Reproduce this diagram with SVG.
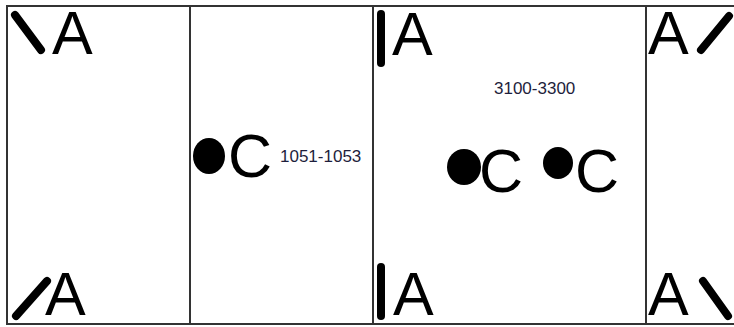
<svg xmlns="http://www.w3.org/2000/svg" width="734" height="327" viewBox="0 0 734 327">
<style>
.big{font-family:"Liberation Sans",Arial,sans-serif;font-size:61px;fill:#000}
.num{font-family:"Liberation Sans",Arial,sans-serif;font-size:17px;fill:#1e1e3c}
.bar{stroke:#000;stroke-width:8;stroke-linecap:round;fill:none}
.line{stroke:#333;stroke-width:2;fill:none}
</style>
<rect width="734" height="327" fill="#fff"/>
<g id="connectors">
<line class="line" x1="6" y1="6" x2="734" y2="6"/>
<line class="line" x1="6" y1="324" x2="734" y2="324"/>
<line class="line" x1="7" y1="6" x2="7" y2="324"/>
<line class="line" x1="190" y1="6" x2="190" y2="324"/>
<line class="line" x1="373" y1="6" x2="373" y2="324"/>
<line class="line" x1="646" y1="6" x2="646" y2="324"/>
</g>
<g id="a-top-left"><line class="bar" x1="15" y1="15" x2="41" y2="50"/><text class="big" x="52" y="54">A</text></g>
<g id="a-bottom-left"><line class="bar" x1="16" y1="316" x2="47" y2="281"/><text class="big" x="45" y="315">A</text></g>
<g id="c-mid"><ellipse cx="209" cy="156" rx="16" ry="18"/><text class="big" x="228" y="177">C</text><text class="num" x="280" y="162">1051-1053</text></g>
<g id="a-top-third"><line class="bar" x1="381" y1="14" x2="381" y2="63"/><text class="big" x="392" y="55">A</text></g>
<g id="a-bottom-third"><line class="bar" x1="381" y1="267" x2="381" y2="316"/><text class="big" x="393" y="315">A</text></g>
<g id="label-3100"><text class="num" x="494" y="94">3100-3300</text></g>
<g id="c-left"><ellipse cx="464" cy="167" rx="17" ry="18"/><text class="big" x="479" y="192">C</text></g>
<g id="c-right"><ellipse cx="558" cy="163" rx="15" ry="16"/><text class="big" x="575" y="192">C</text></g>
<g id="a-top-right"><text class="big" x="648" y="54">A</text><line class="bar" x1="701" y1="50" x2="729" y2="16"/></g>
<g id="a-bottom-right"><text class="big" x="648" y="315">A</text><line class="bar" x1="703" y1="281" x2="728" y2="316"/></g>
</svg>
